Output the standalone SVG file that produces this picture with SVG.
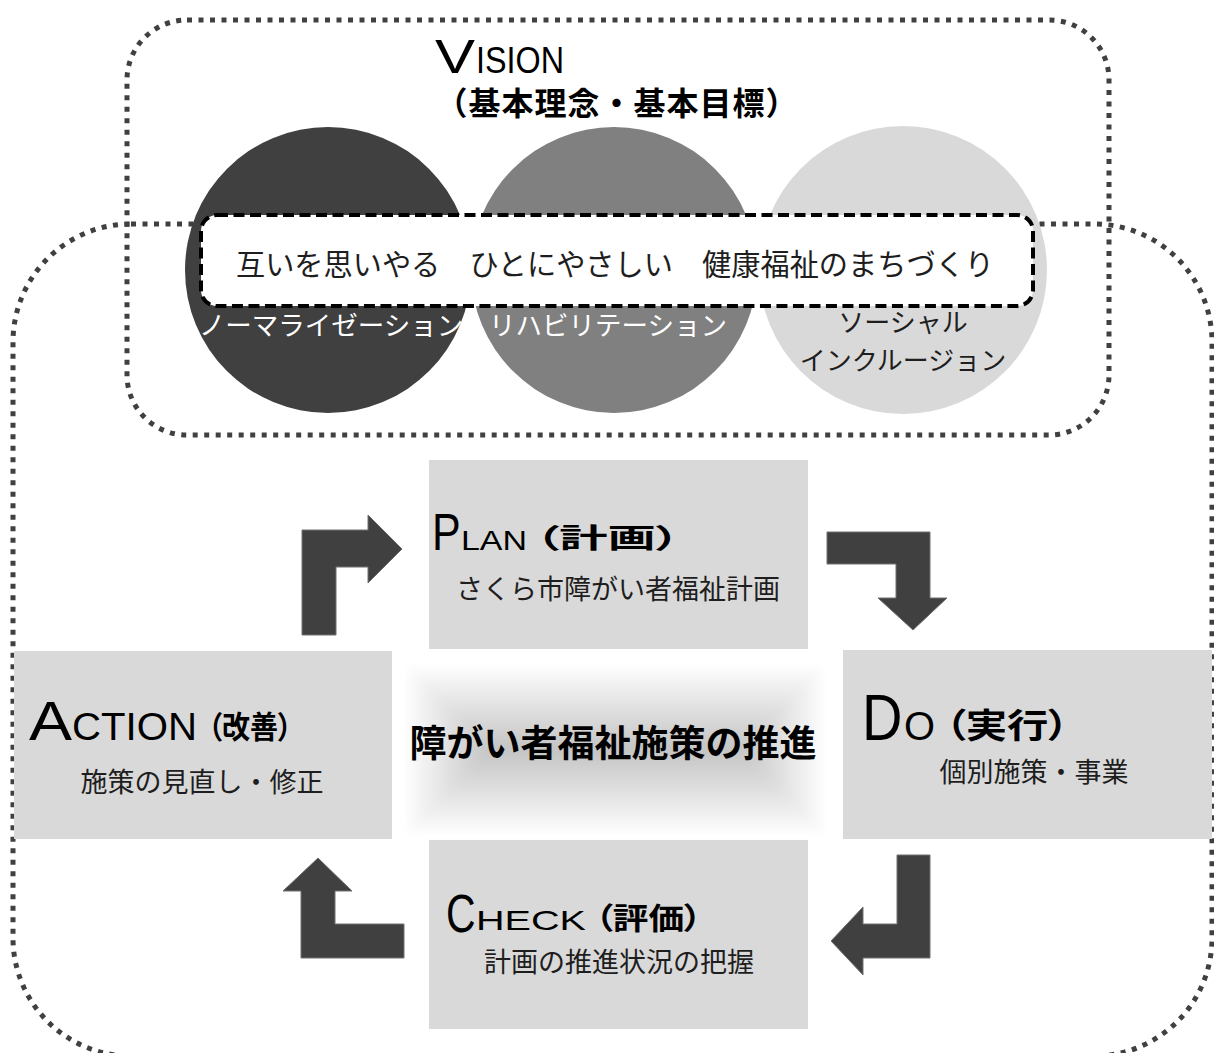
<svg xmlns="http://www.w3.org/2000/svg" width="1214" height="1053" viewBox="0 0 1214 1053">
<defs>
<style>
.dot{fill:none;stroke:#404040;stroke-width:5;stroke-dasharray:5 6.5}
.box{fill:#d9d9d9}
.arrow{fill:#404040;stroke:#707070;stroke-width:1}
.en{font-family:"Liberation Sans",Arial,sans-serif;fill:#000}
.jp{font-family:"Noto Sans CJK JP","Noto Sans CJK SC",sans-serif;fill:#1e1e1e}
.jpb{font-family:"Noto Sans CJK JP","Noto Sans CJK SC",sans-serif;font-weight:700;fill:#000}
.pal{font-feature-settings:"palt" 1}
.sub{font-size:27px;text-anchor:middle}
</style>
<linearGradient id="gv1" x1="0" y1="0" x2="0" y2="1"><stop offset="0" stop-color="#ffffff"/><stop offset="1" stop-color="#c4c4c4"/></linearGradient>
<linearGradient id="gv2" x1="0" y1="1" x2="0" y2="0"><stop offset="0" stop-color="#ffffff"/><stop offset="1" stop-color="#c4c4c4"/></linearGradient>
<linearGradient id="gh1" x1="0" y1="0" x2="1" y2="0"><stop offset="0" stop-color="#ffffff"/><stop offset="1" stop-color="#c4c4c4"/></linearGradient>
<linearGradient id="gh2" x1="1" y1="0" x2="0" y2="0"><stop offset="0" stop-color="#ffffff"/><stop offset="1" stop-color="#c4c4c4"/></linearGradient>
<filter id="soft" x="-5%" y="-10%" width="110%" height="120%"><feGaussianBlur stdDeviation="3"/></filter>
</defs>
<rect width="1214" height="1053" fill="#ffffff"/>

<g id="frame-cycle">
<rect class="dot" x="13" y="224" width="1199" height="832" rx="118" ry="118"/>
</g>
<g id="frame-vision">
<rect class="dot" x="127" y="20" width="982" height="415" rx="60" ry="60"/>
</g>

<g id="vision-title">
<text class="en" y="73"><tspan x="435" font-size="49" textLength="40" lengthAdjust="spacingAndGlyphs">V</tspan><tspan x="476" font-size="36" textLength="88" lengthAdjust="spacingAndGlyphs">ISION</tspan></text>
<text class="jpb" x="617" y="115" font-size="32" letter-spacing="1" text-anchor="middle">（基本理念・基本目標）</text>
</g>

<g id="circle-normalization">
<circle cx="328" cy="270" r="143" fill="#404040"/>
<text class="jp" x="331" y="335" font-size="26.5" text-anchor="middle" style="fill:#ffffff">ノーマライゼーション</text>
</g>
<g id="circle-rehabilitation">
<circle cx="614" cy="270" r="143" fill="#808080"/>
<text class="jp" x="608" y="335" font-size="26.5" text-anchor="middle" style="fill:#ffffff">リハビリテーション</text>
</g>
<g id="circle-inclusion">
<circle cx="903" cy="270" r="144" fill="#d9d9d9"/>
<text class="jp" font-size="26" text-anchor="middle"><tspan x="903" y="332">ソーシャル</tspan><tspan x="903" y="370">インクルージョン</tspan></text>
</g>

<g id="vision-slogan">
<rect x="201" y="215" width="832" height="91" rx="16" ry="16" fill="#ffffff" stroke="#000" stroke-width="4" stroke-dasharray="11 5.5"/>
<text class="jp" x="236" y="275" font-size="29.2">互いを思いやる　ひとにやさしい　健康福祉のまちづくり</text>
</g>

<g id="center">
<g filter="url(#soft)">
<polygon points="404,664 826,664 740,750 490,750" fill="url(#gv1)"/>
<polygon points="404,836 826,836 740,750 490,750" fill="url(#gv2)"/>
<polygon points="404,664 490,750 404,836" fill="url(#gh1)"/>
<polygon points="826,664 740,750 826,836" fill="url(#gh2)"/>
<line x1="490" y1="750" x2="740" y2="750" stroke="#c4c4c4" stroke-width="2"/>
</g>
<text class="jpb" x="613" y="757" font-size="37" text-anchor="middle">障がい者福祉施策の推進</text>
</g>

<g id="node-plan">
<rect class="box" x="429" y="460" width="379" height="189"/>
<text class="en" font-size="43" transform="translate(432,550) scale(1,1.19)">P</text>
<text class="en" x="461" y="550" font-size="27" textLength="66" lengthAdjust="spacingAndGlyphs">LAN</text>
<text class="jpb pal" x="535" y="548" font-size="27" textLength="145" lengthAdjust="spacingAndGlyphs">（計画）</text>
<text class="jp sub" x="618" y="599">さくら市障がい者福祉計画</text>
</g>

<g id="node-do">
<rect class="box" x="843" y="650" width="369" height="189"/>
<text class="en" font-size="56" transform="translate(862,740) scale(1,1.17)">D</text>
<text class="en" x="904" y="740" font-size="40" textLength="31" lengthAdjust="spacingAndGlyphs">O</text>
<text class="jpb pal" x="945" y="738" font-size="34" textLength="124" lengthAdjust="spacingAndGlyphs">（実行）</text>
<text class="jp sub" x="1034" y="782">個別施策・事業</text>
</g>

<g id="node-action">
<rect class="box" x="14" y="651" width="378" height="188"/>
<text class="en" x="29" y="740" font-size="56" textLength="43" lengthAdjust="spacingAndGlyphs">A</text>
<text class="en" x="72" y="740" font-size="39" textLength="125" lengthAdjust="spacingAndGlyphs">CTION</text>
<text class="jpb pal" x="208" y="738" font-size="31" textLength="84" lengthAdjust="spacingAndGlyphs">（改善）</text>
<text class="jp sub" x="202" y="792">施策の見直し・修正</text>
</g>

<g id="node-check">
<rect class="box" x="429" y="840" width="379" height="189"/>
<text class="en" font-size="41" transform="translate(446,932) scale(1,1.32)">C</text>
<text class="en" x="476" y="930" font-size="28" textLength="110" lengthAdjust="spacingAndGlyphs">HECK</text>
<text class="jpb pal" x="595" y="929" font-size="30" textLength="107" lengthAdjust="spacingAndGlyphs">（評価）</text>
<text class="jp sub" x="619" y="972">計画の推進状況の把握</text>
</g>

<g id="connectors">
<polygon class="arrow" points="302,635 302,530 368,530 368,515 402,549 368,583 368,567 336,567 336,635"/>
<polygon class="arrow" points="827,532 930,532 930,598 947,598 913,630 878,598 896,598 896,564 827,564"/>
<polygon class="arrow" points="897,855 930,855 930,958 863,958 863,975 831,941 863,907 863,924 897,924"/>
<polygon class="arrow" points="404,924 404,958 301,958 301,891 283,891 318,858 352,891 335,891 335,924"/>
</g>
</svg>
